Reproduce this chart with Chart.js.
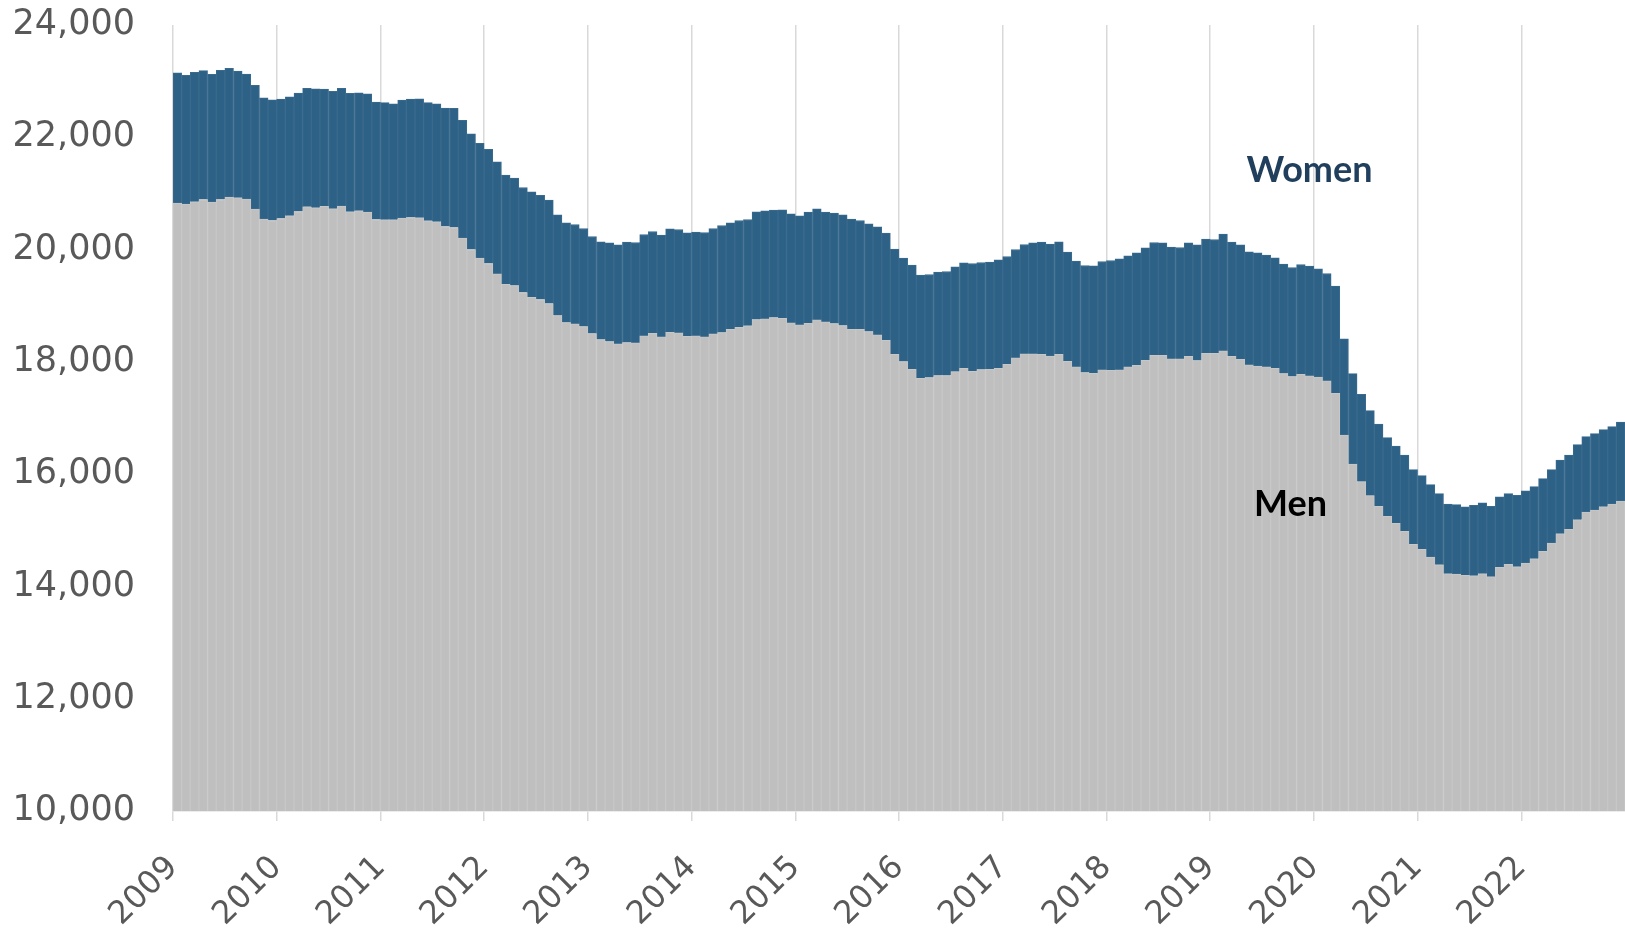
<!DOCTYPE html>
<html>
<head>
<meta charset="utf-8">
<script src="https://cdn.jsdelivr.net/npm/chart.js@4.4.0/dist/chart.umd.min.js"></script>
<style>
  html, body { margin: 0; padding: 0; background: #ffffff; }
  #wrap { position: relative; width: 1625px; height: 931px; }
</style>
</head>
<body>
<div id="wrap"><canvas id="chart"></canvas></div>
<script>
// Year tick labels (one per January)
const years = ["2009", "2010", "2011", "2012", "2013", "2014", "2015",
  "2016", "2017", "2018", "2019", "2020", "2021", "2022"];

// Monthly values, Jan 2009 - Dec 2022
const men = [
  20827, 20809, 20851, 20892, 20845, 20892, 20934, 20922, 20898, 20720, 20542, 20518,
  20554, 20601, 20678, 20762, 20744, 20768, 20726, 20773, 20672, 20690, 20666, 20536,
  20530, 20530, 20560, 20572, 20566, 20512, 20494, 20411, 20393, 20203, 20001, 19847,
  19752, 19567, 19383, 19359, 19235, 19151, 19110, 19038, 18824, 18700, 18676, 18628,
  18504, 18397, 18361, 18320, 18343, 18337, 18462, 18510, 18444, 18528, 18516, 18456,
  18462, 18444, 18498, 18522, 18581, 18617, 18641, 18753, 18765, 18789, 18777, 18694,
  18658, 18688, 18747, 18712, 18682, 18646, 18581, 18581, 18539, 18480, 18385, 18135,
  18005, 17868, 17708, 17720, 17755, 17755, 17826, 17886, 17832, 17862, 17868, 17886,
  17957, 18070, 18141, 18141, 18135, 18105, 18135, 18011, 17910, 17809, 17797, 17856,
  17850, 17856, 17910, 17939, 18028, 18118, 18118, 18052, 18052, 18100, 18022, 18153,
  18153, 18195, 18100, 18046, 17945, 17927, 17910, 17886, 17791, 17737, 17779, 17749,
  17731, 17660, 17440, 16697, 16181, 15866, 15616, 15426, 15248, 15123, 14980, 14749,
  14660, 14523, 14386, 14226, 14220, 14196, 14190, 14226, 14172, 14339, 14392, 14351,
  14416, 14493, 14624, 14772, 14939, 15016, 15188, 15325, 15361, 15420, 15468, 15521
];

const women = [
  2323, 2294, 2305, 2294, 2275, 2300, 2293, 2258, 2228, 2204, 2163, 2151,
  2127, 2121, 2110, 2109, 2121, 2091, 2091, 2098, 2110, 2104, 2110, 2091,
  2086, 2068, 2103, 2109, 2121, 2104, 2104, 2109, 2122, 2098, 2062, 2044,
  2032, 1997, 1943, 1914, 1871, 1878, 1854, 1842, 1795, 1776, 1771, 1747,
  1729, 1741, 1759, 1764, 1789, 1789, 1807, 1812, 1813, 1842, 1842, 1842,
  1848, 1860, 1878, 1907, 1896, 1901, 1895, 1920, 1925, 1913, 1931, 1943,
  1943, 1979, 1979, 1955, 1967, 1973, 1961, 1937, 1920, 1925, 1907, 1872,
  1842, 1854, 1836, 1836, 1842, 1854, 1866, 1878, 1920, 1907, 1907, 1931,
  1919, 1931, 1949, 1979, 1997, 1991, 2003, 1943, 1883, 1907, 1913, 1931,
  1955, 1979, 1978, 2003, 2003, 2008, 2002, 1991, 1985, 2020, 2062, 2032,
  2027, 2080, 2032, 2038, 2015, 2015, 1990, 1967, 1949, 1943, 1955, 1955,
  1926, 1913, 1908, 1712, 1610, 1556, 1515, 1467, 1402, 1378, 1361, 1331,
  1313, 1289, 1266, 1242, 1236, 1224, 1254, 1265, 1254, 1259, 1260, 1271,
  1289, 1284, 1295, 1308, 1313, 1325, 1337, 1343, 1360, 1373, 1378, 1408
];

const yTicks = [10000, 12000, 14000, 16000, 18000, 20000, 22000, 24000];

// Series labels placed on the chart (month index, value)
const seriesLabels = [
  { text: "Women", x: 131.5, y: 21415, color: "#1f3f5c" },
  { text: "Men", x: 129.3, y: 15462, color: "#000000" }
];

const FONT = "'DejaVu Sans', sans-serif";

// point at the middle of each month on a linear month axis
const toPoints = (arr) => arr.map((v, i) => ({ x: i + 0.5, y: v }));

const labelPlugin = {
  id: "seriesLabels",
  afterDatasetsDraw(chart) {
    const ctx = chart.ctx;
    const xs = chart.scales.x;
    const ys = chart.scales.y;
    ctx.save();
    ctx.font = "bold 36px Lato, sans-serif";
    ctx.textAlign = "center";
    ctx.textBaseline = "middle";
    seriesLabels.forEach((l) => {
      ctx.fillStyle = l.color;
      ctx.fillText(l.text, xs.getPixelForValue(l.x), ys.getPixelForValue(l.y));
    });
    ctx.restore();
  }
};

new Chart(document.getElementById("chart"), {
  type: "bar",
  data: {
    datasets: [
      {
        label: "Men",
        data: toPoints(men),
        backgroundColor: "#bfbfbf",
        borderColor: "#c7c7c7",
        borderWidth: 1,
        barPercentage: 1,
        categoryPercentage: 1
      },
      {
        label: "Women",
        data: toPoints(women),
        backgroundColor: "#2d6186",
        borderColor: "#3a6b8e",
        borderWidth: 1,
        barPercentage: 1,
        categoryPercentage: 1
      }
    ]
  },
  options: {
    responsive: true,
    maintainAspectRatio: false,
    animation: false,
    layout: { padding: 0 },
    plugins: {
      legend: { display: false },
      tooltip: { enabled: false }
    },
    scales: {
      x: {
        type: "linear",
        stacked: true,
        offset: false,
        min: 0,
        max: years.length * 12,
        afterBuildTicks(scale) {
          scale.ticks = years.map((y, i) => ({ value: i * 12 }));
        },
        afterFit(scale) {
          scale.height = 120;
          scale.paddingRight = 0;
        },
        ticks: {
          minRotation: 45,
          maxRotation: 45,
          padding: 28,
          color: "#595959",
          font: { family: FONT, size: 32 },
          callback: (v) => years[Math.round(v / 12)]
        },
        grid: {
          offset: false,
          color: "#d9d9d9",
          lineWidth: 1.5,
          tickLength: 10
        },
        border: { color: "#d9d9d9", width: 1.5 }
      },
      y: {
        stacked: true,
        min: 10000,
        max: 24000,
        afterBuildTicks(scale) {
          scale.ticks = yTicks.map((v) => ({ value: v }));
        },
        afterFit(scale) {
          scale.width = 173;
          scale.paddingTop = 25;
        },
        ticks: {
          padding: 38,
          color: "#595959",
          font: { family: FONT, size: 35 },
          callback: (v) => v.toLocaleString("en-US")
        },
        grid: { display: false, drawTicks: false },
        border: { display: false }
      }
    }
  },
  plugins: [labelPlugin]
});
</script>
</body>
</html>
